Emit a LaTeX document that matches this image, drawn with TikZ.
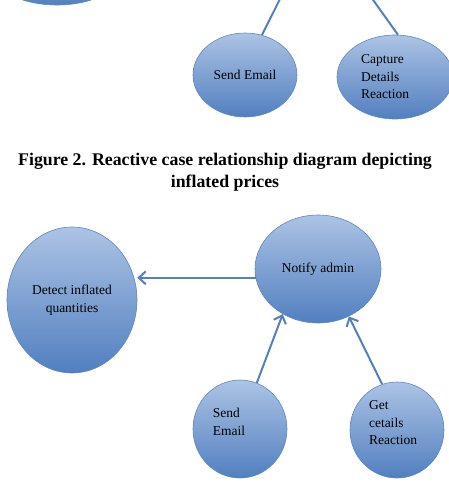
\documentclass[tikz,border=0pt]{standalone}
\usepackage{fontspec}
\setmainfont{Liberation Serif}
\usepackage{tikz}
\usetikzlibrary{arrows.meta,positioning,shapes.geometric,calc}
\usepackage{xcolor}
\definecolor{ovaltop}{RGB}{172,195,228}
\definecolor{ovalbot}{RGB}{82,127,192}
\definecolor{ovalline}{RGB}{96,135,192}
\definecolor{linkblue}{RGB}{84,128,188}

\tikzset{
  oval/.style={ellipse, draw=ovalline, line width=0.6pt, top color=ovaltop, bottom color=ovalbot, inner sep=0pt, font=\fontsize{13.5}{17.5}\selectfont, text=black},
  ovaltext/.style={align=left, font=\fontsize{13.5}{17.5}\selectfont, text=black},
  link/.style={draw=linkblue, line width=2pt}
}

\begin{document}
\begin{tikzpicture}[x=1pt, y=-1pt, >={Straight Barb[length=7pt,width=13pt]}]
    \useasboundingbox (0,0) rectangle (449,487);
    \clip (0,0) rectangle (449,487);

    % Upper diagram (cut off at the top)
    \node[oval, minimum width=120pt, minimum height=56pt] (prices) at (57,-23) {};
    \node[oval, minimum width=104pt, minimum height=84pt] (sendA) at (245,75) {Send Email};
    \node[oval, minimum width=116pt, minimum height=84pt,
          label={[ovaltext, xshift=-10pt]center:Capture\\Details\\Reaction}] (captureA) at (395,77) {};
    \coordinate (upA) at (281,-3);
    \coordinate (upB) at (371,-3);
    \draw[link] (sendA.67) -- (upA);
    \draw[link] (captureA.86) -- (upB);

    % Caption
    \node[align=center, font=\fontsize{17.8}{22}\selectfont\bfseries] (caption) at (225,172)
        {Figure 2. Reactive case relationship diagram depicting\\inflated prices};

    % Lower diagram
    \node[oval, minimum width=130pt, minimum height=146pt, align=center] (detect) at (72,300)
        {Detect inflated\\quantities};
    \node[oval, minimum width=126pt, minimum height=108pt] (notify) at (318,269) {Notify admin};
    \node[oval, minimum width=94pt, minimum height=98pt,
          label={[ovaltext, xshift=-11pt, yshift=7pt]center:Send\\Email}] (sendB) at (240,429) {};
    \node[oval, minimum width=94pt, minimum height=96pt,
          label={[ovaltext, xshift=-4pt, yshift=7pt]center:Get\\cetails\\Reaction}] (getB) at (397,430) {};

    % Arrows
    \draw[link, ->] (notify.188) -- (detect.east |- notify.188);
    \draw[link, ->] (sendB.70) -- (notify.232);
    \draw[link, ->] (getB.108) -- (notify.303);
\end{tikzpicture}
\end{document}
